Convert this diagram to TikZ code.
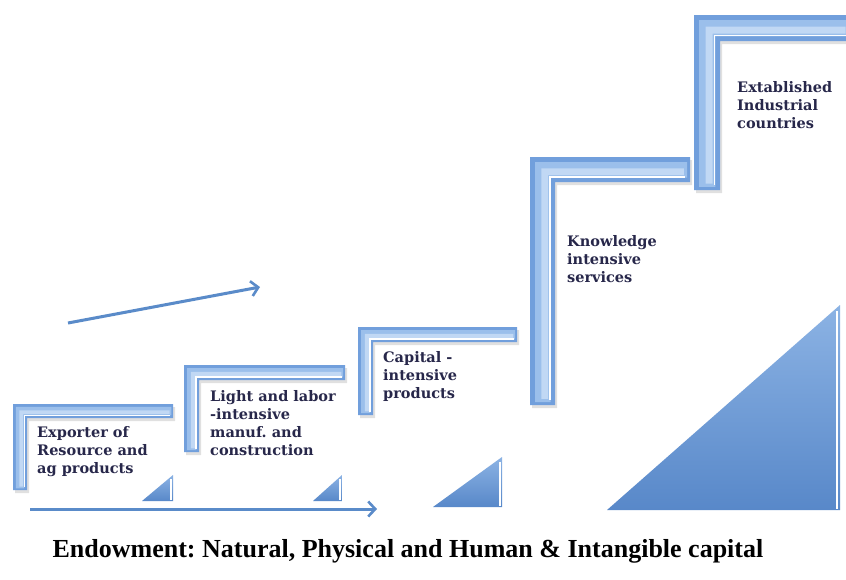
\documentclass[tikz,border=0pt]{standalone}
\usepackage{fontspec}
\setmainfont{Liberation Serif}
\newfontfamily\labelfont{DejaVu Serif}
\usepackage{tikz}
\usetikzlibrary{arrows.meta, positioning, calc}
\definecolor{framedark}{HTML}{719FDC}
\definecolor{framemid}{HTML}{9BBFEB}
\definecolor{framelight}{HTML}{C1D8F4}
\definecolor{arrowblue}{HTML}{5A8BC9}
\definecolor{trilight}{HTML}{8CB3E4}
\definecolor{tridark}{HTML}{5888C9}
\definecolor{labelink}{HTML}{27274A}
\frenchspacing

% half frame: x0, y0 (outer top left), x1 (right end), y1 (bottom end), thickness
\newcommand{\halfframe}[5]{%
  \fill[black, opacity=0.12] ({#1+2},{#2+3}) -- ({#3+2},{#2+3}) -- ({#3+2},{#2+#5+3})
    -- ({#1+#5+2},{#2+#5+3}) -- ({#1+#5+2},{#4+3}) -- ({#1+2},{#4+3}) -- cycle;
  \fill[framedark] (#1,#2) -- (#3,#2) -- (#3,{#2+#5}) -- ({#1+#5},{#2+#5})
    -- ({#1+#5},#4) -- (#1,#4) -- cycle;
  \fill[framemid] ({#1+0.2*#5},{#2+0.2*#5}) -- ({#3-0.12*#5},{#2+0.2*#5})
    -- ({#3-0.12*#5},{#2+0.82*#5}) -- ({#1+0.82*#5},{#2+0.82*#5})
    -- ({#1+0.82*#5},{#4-0.12*#5}) -- ({#1+0.2*#5},{#4-0.12*#5}) -- cycle;
  \fill[framelight] ({#1+0.45*#5},{#2+0.45*#5}) -- ({#3-0.25*#5},{#2+0.45*#5})
    -- ({#3-0.25*#5},{#2+0.72*#5}) -- ({#1+0.72*#5},{#2+0.72*#5})
    -- ({#1+0.72*#5},{#4-0.25*#5}) -- ({#1+0.45*#5},{#4-0.25*#5}) -- cycle;
  \draw[white, line width=1.2pt] ({#3-0.2*#5},{#2+0.8*#5}) -- ({#1+0.8*#5},{#2+0.8*#5})
    -- ({#1+0.8*#5},{#4-0.2*#5});
}

\begin{document}
\begin{tikzpicture}[
    x=1pt, y=-1pt,
    stage/.style={
      anchor=north west, align=left, inner sep=0pt,
      font=\labelfont\bfseries\fontsize{14.5}{18}\selectfont, text=labelink
    },
    caption/.style={font=\bfseries\fontsize{26}{30}\selectfont, text=black},
    tri/.style={top color=trilight, bottom color=tridark, draw=none},
    triedge/.style={white, line width=1.2pt},
    flow/.style={arrowblue, line width=3pt,
      -{Straight Barb[length=7pt, width=15pt, line width=2.6pt]}}
  ]
    \useasboundingbox (0,0) rectangle (846,579);
    \fill[white] (0,0) rectangle (846,579);

    % stairs
    \halfframe{13}{404}{173}{490}{14}
    \halfframe{184}{365}{345}{452}{15}
    \halfframe{358}{327}{517}{415}{15}
    \halfframe{530}{157}{690}{405}{25}
    \halfframe{694}{15}{852}{190}{26}

    \node[stage] (export) at (37,426)  {Exporter of\\Resource and\\ag products};
    \node[stage] (light)  at (210,390) {Light and labor\\-intensive\\manuf. and\\construction};
    \node[stage] (capital) at (383,351) {Capital -\\intensive\\products};
    \node[stage] (know)   at (567,235) {Knowledge\\intensive\\services};
    \node[stage] (estab)  at (737,81)  {Extablished\\Industrial\\countries};

    % wedges
    \shade[tri] (142,501) -- (173,475) -- (173,501) -- cycle;
    \shade[tri] (313,501) -- (342,475) -- (342,501) -- cycle;
    \shade[tri] (433,507) -- (502,457) -- (502,507) -- cycle;
    \shade[tri] (607,510) -- (840,305) -- (840,510) -- cycle;
    \draw[triedge] (171,479) -- (171,500);
    \draw[triedge] (340,479) -- (340,500);
    \draw[triedge] (500,462) -- (500,506);
    \draw[triedge] (837,311) -- (837,509);

    % arrows
    \coordinate (base0) at (30,509);
    \coordinate (base1) at (377,509);
    \coordinate (rise0) at (68,323);
    \coordinate (rise1) at (260,287);
    \draw[flow] (base0) -- (base1);
    \draw[flow] (rise0) -- (rise1);

    \node[caption] (endow) at (408,551)
      {Endowment: Natural, Physical and Human \& Intangible capital};
  \end{tikzpicture}
\end{document}
